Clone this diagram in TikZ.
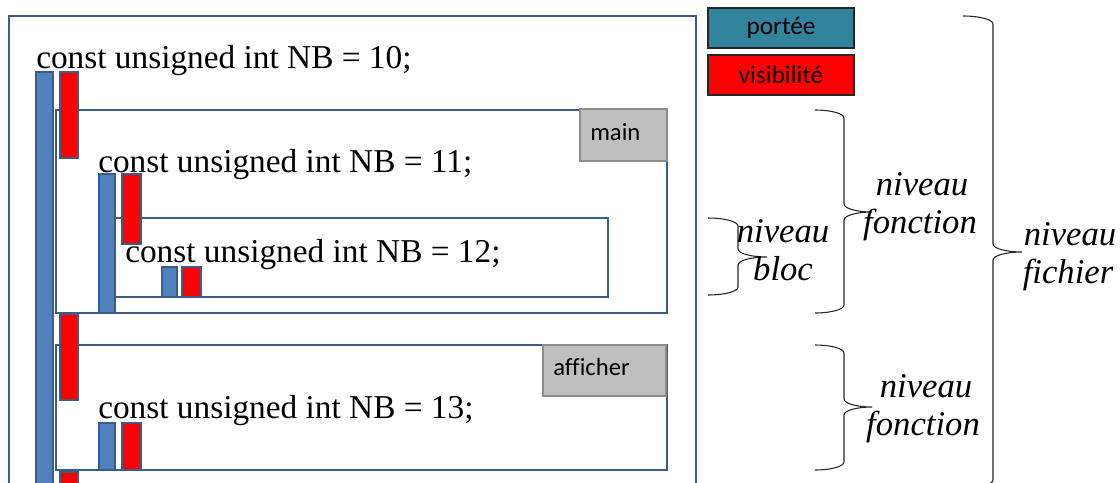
\documentclass[tikz,border=0pt]{standalone}
\usepackage{fontspec}
\setmainfont{Liberation Serif}
\newfontfamily\uisans[Ligatures=NoCommon]{Carlito}
\definecolor{frameblue}{HTML}{385D8A}
\definecolor{scopeblue}{HTML}{4F81BD}
\definecolor{vispink}{HTML}{FF0000}
\definecolor{legteal}{HTML}{31849B}
\definecolor{tabgray}{HTML}{BFBFBF}
\definecolor{tabedge}{HTML}{8C8C8C}
\tikzset{
  levelbox/.style={draw=frameblue, line width=1.5pt},
  scopebar/.style={draw=frameblue, fill=scopeblue, line width=1.1pt},
  visbar/.style={draw=frameblue, fill=vispink, line width=1.1pt},
  tabbox/.style={draw=tabedge, fill=tabgray, line width=0.8pt},
  legbox/.style={draw=black!85, line width=1.8pt},
  code/.style={inner sep=0pt, anchor=base west, font=\fontsize{25}{30}\selectfont},
  tabtext/.style={inner sep=0pt, anchor=west, font=\uisans\fontsize{18.5}{22}\selectfont},
  legtext/.style={inner sep=0pt, font=\uisans\fontsize{19}{23}\selectfont},
  levtext/.style={inner sep=0pt, anchor=base, font=\itshape\fontsize{26}{31}\selectfont},
  bracepath/.style={draw=black!85, line width=0.8pt}
}
% right brace: left end x, spine x, tip x, top y, middle y, bottom y, curl height
\newcommand\levelbrace[7]{%
  \draw[bracepath] (#1,#4)
    .. controls ({#1+0.552*(#2-#1)},#4) and (#2,{#4+#7-0.552*#7}) .. (#2,{#4+#7})
    -- (#2,{#5-#7})
    .. controls (#2,{#5-#7+0.552*#7}) and ({#3-0.552*(#3-#2)},#5) .. (#3,#5)
    .. controls ({#3-0.552*(#3-#2)},#5) and (#2,{#5+#7-0.552*#7}) .. (#2,{#5+#7})
    -- (#2,{#6-#7})
    .. controls (#2,{#6-#7+0.552*#7}) and ({#1+0.552*(#2-#1)},#6) .. (#1,#6);}
\begin{document}
\begin{tikzpicture}[x=0.75pt, y=-0.75pt]
\clip (0,0) rectangle (1120,482);
\fill[white] (0,0) rectangle (1120,482);

% nested levels: file, main, block, afficher
\draw[levelbox] (9,16) rectangle (696,520);
\draw[levelbox] (56,110) rectangle (667,313);
\draw[levelbox] (115,218) rectangle (608,297);
\draw[levelbox] (56,345) rectangle (667,470);

% function name tabs
\draw[tabbox] (580,109) rectangle (667,161);
\node[tabtext] (tabmain) at (590,132) {main};
\draw[tabbox] (543,345) rectangle (666,396);
\node[tabtext] (tabaff) at (553,367) {afficher};

% declarations
\node[code] (decl10) at (36,68) {const unsigned int NB = 10;};
\node[code] (decl11) at (98,172) {const unsigned int NB = 11;};
\node[code] (decl12) at (125,262) {const unsigned int NB = 12;};
\node[code] (decl13) at (98,418) {const unsigned int NB = 13;};

% scope (blue) and visibility (red) bars
\draw[scopebar] (36,72) rectangle (53,520);
\draw[visbar] (60,72) rectangle (78,158);
\draw[visbar] (60,314) rectangle (78,400);
\draw[visbar] (60,472) rectangle (78,520);

\draw[scopebar] (99,174) rectangle (115,313);
\draw[visbar] (122,174) rectangle (141,244);

\draw[scopebar] (162,267) rectangle (177,297);
\draw[visbar] (182,267) rectangle (201,297);

\draw[scopebar] (99,423) rectangle (115,470);
\draw[visbar] (122,423) rectangle (141,470);

% legend
\draw[legbox, fill=legteal] (708,8) rectangle (854,48);
\node[legtext] (legscope) at (781,28) {portée};
\draw[legbox, fill=vispink] (708,55) rectangle (854,95);
\node[legtext] (legvis) at (781,75) {visibilité};

% level braces
\levelbrace{708}{738}{767}{218}{257}{295}{8}
\levelbrace{815}{844}{872}{110}{212}{313}{8}
\levelbrace{815}{844}{872}{345}{407}{470}{8}
\levelbrace{963}{993}{1022}{16}{252}{488}{8}

% level names
\node[levtext] (blocA) at (783,242) {niveau};
\node[levtext] (blocB) at (783,280) {bloc};
\node[levtext] (fonA1) at (922,195) {niveau};
\node[levtext] (fonB1) at (920,233) {fonction};
\node[levtext] (fonA2) at (926,397) {niveau};
\node[levtext] (fonB2) at (923,435) {fonction};
\node[levtext] (ficA) at (1070,245) {niveau};
\node[levtext] (ficB) at (1068,283) {fichier};
\end{tikzpicture}
\end{document}
